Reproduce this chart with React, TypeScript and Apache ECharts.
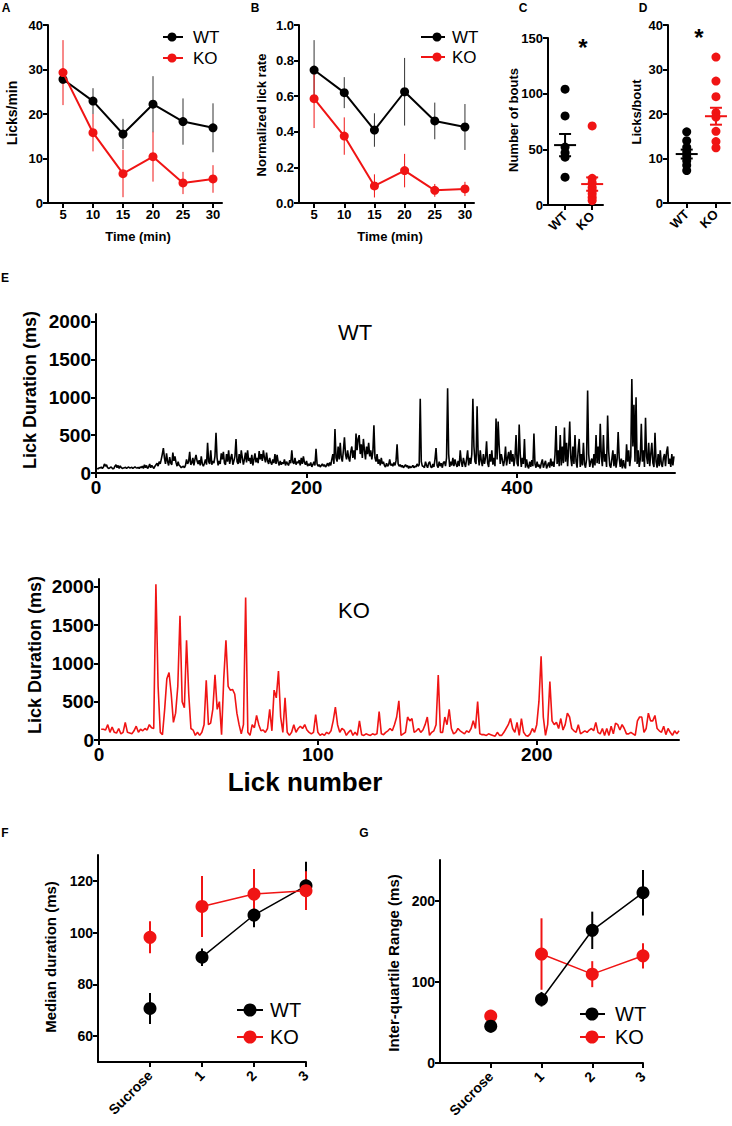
import React, { useEffect, useRef } from 'react';
import * as echarts from 'echarts';

const FONT = "'Liberation Sans', Arial, Helvetica, sans-serif";
const RED = '#f01414';
const BLACK = '#000000';

// ---------- Panel A / B ----------
const timePoints = [5, 10, 15, 20, 25, 30];
const timeTicks = [5, 10, 15, 20, 25, 30];
const aWtMean = [27.8, 22.9, 15.5, 22.2, 18.3, 16.9];
const aWtSem = [1.0, 2.9, 3.4, 6.3, 5.2, 5.5];
const aKoMean = [29.3, 15.8, 6.6, 10.4, 4.5, 5.4];
const aKoSem = [7.3, 4.2, 5.3, 5.6, 2.5, 3.1];
const aTicks = [0, 10, 20, 30, 40];
const bWtMean = [0.747, 0.62, 0.41, 0.625, 0.461, 0.427];
const bWtSem = [0.168, 0.087, 0.094, 0.19, 0.103, 0.129];
const bKoMean = [0.586, 0.376, 0.096, 0.182, 0.071, 0.079];
const bKoSem = [0.165, 0.105, 0.065, 0.094, 0.036, 0.04];
const bTicks = [0, 0.2, 0.4, 0.6, 0.8, 1.0];

// ---------- Panel C / D ----------
const groups = ['WT', 'KO'];
const cWt = [104, 80, 52, 47, 43, 25];
const cKo = [71, 24, 20, 16, 13, 10, 7, 4];
const cMean = [53.8, 18.8];
const cSem = [10, 6];
const cTicks = [0, 50, 100, 150];
const dWt = [16, 14, 12.5, 11.5, 10.5, 9.5, 8.5, 7.3];
const dKo = [32.8, 27.4, 23.9, 20.3, 19.3, 16.1, 13.8, 12.4];
const dMean = [11.0, 19.5];
const dSem = [1.0, 1.9];
const dTicks = [0, 10, 20, 30, 40];

// ---------- Panel E ----------
const durTicks = [0, 500, 1000, 1500, 2000];
const wtTicksX = [0, 200, 400];
const koTicksX = [0, 100, 200];
const wtLickDur = [
  60,55,70,65,80,60,75,120,90,110,
  70,60,65,80,70,55,60,90,110,70,
  100,60,95,70,60,65,70,75,60,70,
  80,65,70,75,60,70,80,70,65,75,
  60,80,70,90,60,110,70,100,60,80,
  120,70,100,80,60,90,110,130,90,150,
  120,180,250,330,200,120,260,150,100,210,
  130,110,270,160,220,140,90,150,100,90,
  70,80,90,70,100,180,120,150,280,110,
  130,200,100,180,240,160,120,170,100,220,
  120,90,130,180,110,400,150,120,300,110,
  160,130,220,530,200,100,160,120,260,180,
  280,130,110,250,150,300,120,200,250,110,
  160,220,450,150,120,250,130,300,200,110,
  180,270,140,300,160,200,120,240,100,180,
  260,140,200,130,290,180,250,160,300,200,
  140,270,160,120,200,140,110,180,130,250,
  120,240,150,100,160,110,140,120,180,100,
  150,120,100,170,130,300,140,120,200,110,
  150,130,170,100,200,120,220,140,110,160,
  90,120,100,140,80,110,150,100,320,120,
  90,110,80,100,120,90,110,80,100,130,
  90,140,100,180,250,120,580,200,150,350,
  180,400,200,150,300,470,250,180,300,200,
  150,280,350,200,300,180,520,300,450,500,
  250,380,200,450,300,180,350,250,400,220,
  300,180,280,630,200,150,250,120,180,100,
  200,120,150,100,80,130,90,110,180,100,
  120,90,140,100,160,380,120,90,110,80,
  100,70,90,110,80,100,60,90,70,80,
  100,70,90,80,120,90,110,980,150,90,
  90,70,150,100,70,130,150,80,70,120,
  80,180,330,100,70,150,90,130,70,140,
  150,90,200,1120,250,80,150,100,200,90,
  180,120,80,160,90,300,150,80,200,130,
  80,180,300,100,200,120,250,980,350,150,
  120,880,250,100,300,160,90,250,120,200,
  420,130,80,250,150,300,110,200,90,720,
  180,680,350,120,250,180,90,160,350,100,
  200,280,120,300,150,250,90,200,500,130,
  90,640,250,80,200,120,450,70,180,90,
  60,150,80,170,90,520,120,70,150,80,
  110,60,130,180,70,120,160,60,100,140,
  70,190,90,150,80,240,620,120,300,90,
  500,100,350,130,600,150,400,90,330,680,
  200,90,350,120,500,150,70,300,450,80,
  250,100,400,120,70,180,1090,250,80,150,
  190,70,250,100,500,130,350,120,650,220,
  90,500,150,250,80,760,280,100,70,180,
  300,90,250,70,180,540,200,80,190,60,
  170,90,60,380,150,300,90,220,1240,350,
  900,150,1000,120,300,80,180,650,150,300,
  80,730,220,120,400,90,250,400,130,80,
  530,150,70,250,90,300,120,80,200,250,
  90,280,350,120,190,80,250,100,220,
];
const koLickDur = [
  140,140,130,200,100,170,100,90,150,80,
  100,230,100,90,80,120,180,100,140,120,
  150,130,200,160,150,2030,700,100,70,400,
  800,880,600,230,350,700,1620,500,420,1300,
  600,150,130,60,100,60,100,200,780,200,
  220,400,850,400,500,70,800,1300,700,650,
  660,600,350,200,80,200,1860,100,60,200,
  160,320,200,120,130,100,150,400,120,650,
  550,900,300,100,550,100,60,100,200,100,
  150,180,150,200,130,100,80,100,330,100,
  60,80,60,100,80,120,250,430,200,100,
  150,130,60,100,130,60,100,60,250,70,
  60,80,70,60,80,70,80,370,80,70,
  100,120,150,120,200,300,510,60,80,100,
  300,250,280,100,120,150,100,130,200,300,
  60,100,120,200,847,100,100,300,200,400,
  150,80,100,150,120,100,80,120,100,150,
  250,150,500,80,70,70,60,80,70,60,
  50,100,60,60,100,150,200,280,150,100,
  230,60,280,100,60,50,80,150,100,200,
  500,1092,300,60,200,764,250,200,230,150,
  280,130,200,350,300,150,120,100,200,80,
  100,120,100,130,150,120,230,100,80,150,
  60,150,60,180,80,220,200,130,200,150,
  80,80,100,80,60,250,300,300,100,150,
  350,250,250,320,150,120,100,180,70,150,
  100,60,120,80,120,
];

// ---------- Panel F / G ----------
const fgCats = ['Sucrose', '1', '2', '3'];
const fgPos = [0, 1, 2, 3];
const fWtMean = [70.7, 90.5, 106.8, 118.1];
const fWtSem = [6.0, 3.4, 4.7, 9.3];
const fKoMean = [98.2, 110.1, 114.9, 116.2];
const fKoSem = [6.2, 11.8, 9.7, 7.5];
const fTicks = [60, 80, 100, 120];
const gWtMean = [45.4, 78.5, 163.4, 209.7];
const gWtSem = [8, 9, 23, 28];
const gKoMean = [57.8, 134.2, 109.4, 132.0];
const gKoSem = [5, 44, 16, 15.5];
const gTicks = [0, 100, 200];

function mkAxis(gridIndex: number, min: number, max: number, ticks: number[], fontSize: number, extra: any = {}) {
  return {
    type: 'value', gridIndex, min, max,
    splitLine: { show: false },
    axisLine: { show: true, onZero: false, lineStyle: { color: BLACK, width: 2 } },
    axisTick: { show: true, inside: false, length: 5, customValues: ticks, lineStyle: { color: BLACK, width: 2 } },
    axisLabel: {
      show: true, customValues: ticks, fontSize, fontWeight: 'bold', color: BLACK, fontFamily: FONT, margin: 5,
      formatter: (v: number) => String(v),
      ...extra,
    },
  };
}

function lineSeries(xs: number[], ys: number[], color: string, size: number, axis: number, lw: number, z = 4) {
  return {
    type: 'line', xAxisIndex: axis, yAxisIndex: axis, z,
    data: xs.map((x, i) => [x, ys[i]]),
    symbol: 'circle', symbolSize: size, showSymbol: true,
    lineStyle: { color, width: lw }, itemStyle: { color },
    silent: true,
  };
}

function errSeries(xs: number[], mean: number[], sem: number[], color: string, axis: number, lw: number, z = 2) {
  return {
    type: 'custom', xAxisIndex: axis, yAxisIndex: axis, z, silent: true,
    data: xs.map((x, i) => [x, mean[i] - sem[i], mean[i] + sem[i]]),
    renderItem: (_p: any, api: any) => {
      const a = api.coord([api.value(0), api.value(1)]);
      const b = api.coord([api.value(0), api.value(2)]);
      return { type: 'line', shape: { x1: a[0], y1: a[1], x2: b[0], y2: b[1] }, style: { stroke: color, lineWidth: lw } };
    },
  };
}

function meanSemSeries(mean: number[], sem: number[], axis: number) {
  const colors = [BLACK, RED];
  return {
    type: 'custom', xAxisIndex: axis, yAxisIndex: axis, z: 6, silent: true,
    data: mean.map((m, i) => [i, m, sem[i]]),
    renderItem: (p: any, api: any) => {
      const x = api.value(0), m = api.value(1), s = api.value(2);
      const c = colors[p.dataIndex];
      const pm = api.coord([x, m]);
      const ph = api.coord([x, m + s]);
      const pl = api.coord([x, m - s]);
      const st = { stroke: c, lineWidth: 2 };
      return {
        type: 'group', children: [
          { type: 'line', shape: { x1: pm[0] - 11, y1: pm[1], x2: pm[0] + 11, y2: pm[1] }, style: st },
          { type: 'line', shape: { x1: ph[0], y1: ph[1], x2: pl[0], y2: pl[1] }, style: st },
          { type: 'line', shape: { x1: ph[0] - 6, y1: ph[1], x2: ph[0] + 6, y2: ph[1] }, style: st },
          { type: 'line', shape: { x1: pl[0] - 6, y1: pl[1], x2: pl[0] + 6, y2: pl[1] }, style: st },
        ],
      };
    },
  };
}

function dots(pos: number, vals: number[], color: string, axis: number) {
  return {
    type: 'scatter', xAxisIndex: axis, yAxisIndex: axis, z: 4, silent: true,
    data: vals.map((v) => [pos, v]), symbolSize: 9, itemStyle: { color, opacity: 1 },
  };
}

function txt(text: string, x: number, y: number, fontSize: number, opts: any = {}) {
  const { bold = true, align = 'center', vAlign = 'middle', rot = 0, color = BLACK } = opts;
  return {
    type: 'text', x, y, rotation: rot, silent: true,
    style: {
      text, fontSize, fontWeight: bold ? 'bold' : 'normal', fontFamily: FONT, fill: color,
      align, verticalAlign: vAlign, textAlign: align, textVerticalAlign: vAlign,
    },
  };
}

function legendItem(cx: number, y: number, x1: number, x2: number, r: number, color: string, label: string, tx: number, fs: number, lw: number) {
  return [
    { type: 'line', silent: true, shape: { x1, y1: y, x2, y2: y }, style: { stroke: color, lineWidth: lw } },
    { type: 'circle', silent: true, shape: { cx, cy: y, r }, style: { fill: color } },
    txt(label, tx, y, fs, { bold: false, align: 'left' }),
  ];
}

const V = Math.PI / 2;

const grids = [
  { left: 48, top: 25, width: 174, height: 178 },   // A
  { left: 299, top: 25, width: 175, height: 178 },  // B
  { left: 548, top: 38, width: 55, height: 167 },   // C
  { left: 668, top: 25, width: 62, height: 178 },   // D
  { left: 96, top: 314, width: 579, height: 159 },  // E WT
  { left: 99, top: 579, width: 580, height: 161 },  // E KO
  { left: 98, top: 855, width: 208, height: 207 },  // F
  { left: 440, top: 860, width: 203, height: 203 }, // G
].map((g) => ({ ...g, outerBoundsMode: 'none', containLabel: false }));

const catFmt = (v: number) => groups[v];
const fgFmt = (v: number) => fgCats[v];

const xAxes = [
  mkAxis(0, 2.5, 31.5, timeTicks, 13),
  mkAxis(1, 2.5, 31.5, timeTicks, 13),
  mkAxis(2, -0.63, 1.4, [0, 1], 13, { rotate: 45, margin: 9, formatter: catFmt }),
  mkAxis(3, -0.64, 1.48, [0, 1], 13, { rotate: 45, margin: 9, formatter: catFmt }),
  mkAxis(4, 0, 550, wtTicksX, 19),
  mkAxis(5, 0, 265, koTicksX, 19),
  mkAxis(6, -1, 3, fgPos, 14, { rotate: 45, margin: 11, formatter: fgFmt }),
  mkAxis(7, -1, 3, fgPos, 14, { rotate: 45, margin: 11, formatter: fgFmt }),
];
const yAxes = [
  mkAxis(0, 0, 40, aTicks, 13),
  mkAxis(1, 0, 1, bTicks, 13, { formatter: (v: number) => v.toFixed(1) }),
  mkAxis(2, 0, 150, cTicks, 13),
  mkAxis(3, 0, 40, dTicks, 13),
  mkAxis(4, 0, 2100, durTicks, 19),
  mkAxis(5, 0, 2100, durTicks, 19),
  mkAxis(6, 50, 130, fTicks, 14),
  mkAxis(7, 0, 250, gTicks, 14),
];

const series: any[] = [
  // A
  errSeries(timePoints, aWtMean, aWtSem, '#333333', 0, 1),
  errSeries(timePoints, aKoMean, aKoSem, RED, 0, 1),
  lineSeries(timePoints, aWtMean, BLACK, 9, 0, 2),
  lineSeries(timePoints, aKoMean, RED, 9, 0, 2, 5),
  // B
  errSeries(timePoints, bWtMean, bWtSem, '#333333', 1, 1),
  errSeries(timePoints, bKoMean, bKoSem, RED, 1, 1),
  lineSeries(timePoints, bWtMean, BLACK, 9, 1, 2),
  lineSeries(timePoints, bKoMean, RED, 9, 1, 2, 5),
  // C
  dots(0, cWt, BLACK, 2),
  dots(1, cKo, RED, 2),
  meanSemSeries(cMean, cSem, 2),
  // D
  dots(0, dWt, BLACK, 3),
  dots(1, dKo, RED, 3),
  meanSemSeries(dMean, dSem, 3),
  // E
  {
    type: 'line', xAxisIndex: 4, yAxisIndex: 4, showSymbol: false, silent: true,
    data: wtLickDur.map((v, i) => [i + 1, v]), lineStyle: { color: BLACK, width: 1.6 },
  },
  {
    type: 'line', xAxisIndex: 5, yAxisIndex: 5, showSymbol: false, silent: true,
    data: koLickDur.map((v, i) => [i + 1, v]), lineStyle: { color: RED, width: 1.6 },
  },
  // F
  errSeries(fgPos, fWtMean, fWtSem, BLACK, 6, 2),
  errSeries(fgPos, fKoMean, fKoSem, RED, 6, 2, 3),
  lineSeries(fgPos.slice(1), fWtMean.slice(1), BLACK, 13, 6, 1.5),
  lineSeries(fgPos.slice(0, 1), fWtMean.slice(0, 1), BLACK, 13, 6, 1.5),
  lineSeries(fgPos.slice(1), fKoMean.slice(1), RED, 13, 6, 1.5, 5),
  lineSeries(fgPos.slice(0, 1), fKoMean.slice(0, 1), RED, 13, 6, 1.5, 5),
  // G
  errSeries(fgPos, gWtMean, gWtSem, BLACK, 7, 2),
  errSeries(fgPos, gKoMean, gKoSem, RED, 7, 2, 3),
  lineSeries(fgPos.slice(1), gKoMean.slice(1), RED, 13, 7, 1.5, 4),
  lineSeries(fgPos.slice(0, 1), gKoMean.slice(0, 1), RED, 13, 7, 1.5, 4),
  lineSeries(fgPos.slice(1), gWtMean.slice(1), BLACK, 13, 7, 1.5, 5),
  lineSeries(fgPos.slice(0, 1), gWtMean.slice(0, 1), BLACK, 13, 7, 1.5, 5),
];

const graphics: any[] = [
  // panel letters
  txt('A', 6, 8, 12), txt('B', 255, 8, 12), txt('C', 523, 8, 12), txt('D', 643, 8, 12),
  txt('E', 5, 278, 12), txt('F', 5, 833, 12), txt('G', 364, 833, 12),
  // axis names
  txt('Licks/min', 12, 113, 14, { rot: V }),
  txt('Normalized lick rate', 261, 115, 13, { rot: V }),
  txt('Number of bouts', 513, 120, 13, { rot: V }),
  txt('Licks/bout', 636, 112, 13, { rot: V }),
  txt('Time (min)', 138, 236, 13),
  txt('Time (min)', 390, 236, 13),
  txt('Lick Duration (ms)', 30, 390, 18, { rot: V }),
  txt('Lick Duration (ms)', 35, 655, 18, { rot: V }),
  txt('Lick number', 305, 782, 26),
  txt('Median duration (ms)', 50, 957, 15, { rot: V }),
  txt('Inter-quartile Range (ms)', 393, 963, 15, { rot: V }),
  // stars
  txt('*', 583, 47, 24),
  txt('*', 699, 37, 24),
  // E titles
  txt('WT', 338, 332, 22, { bold: false, align: 'left' }),
  txt('KO', 338, 610, 22, { bold: false, align: 'left' }),
  // legends
  ...legendItem(172, 37, 163, 183, 4.5, BLACK, 'WT', 193, 17, 2),
  ...legendItem(172, 58, 163, 183, 4.5, RED, 'KO', 193, 17, 2),
  ...legendItem(437, 37, 421, 445, 4.5, BLACK, 'WT', 452, 17, 2),
  ...legendItem(437, 57, 421, 445, 4.5, RED, 'KO', 452, 17, 2),
  ...legendItem(250, 1010, 237, 263, 6.5, BLACK, 'WT', 270, 20, 2),
  ...legendItem(250, 1037, 237, 263, 6.5, RED, 'KO', 270, 20, 2),
  ...legendItem(592, 1014, 580, 605, 6.5, BLACK, 'WT', 615, 20, 2),
  ...legendItem(592, 1037, 580, 605, 6.5, RED, 'KO', 615, 20, 2),
];

const option: any = {
  animation: false,
  backgroundColor: '#ffffff',
  textStyle: { fontFamily: FONT },
  grid: grids,
  xAxis: xAxes,
  yAxis: yAxes,
  series,
  graphic: { elements: graphics },
};

export default function App() {
  const ref = useRef<HTMLDivElement>(null);
  useEffect(() => {
    document.body.style.margin = '0';
    const chart = echarts.init(ref.current as HTMLDivElement, null, { renderer: 'svg', width: 732, height: 1126 });
    chart.setOption(option);
    return () => chart.dispose();
  }, []);
  return <div ref={ref} style={{ width: 732, height: 1126, position: 'absolute', left: 0, top: 0, background: '#fff' }} />;
}
